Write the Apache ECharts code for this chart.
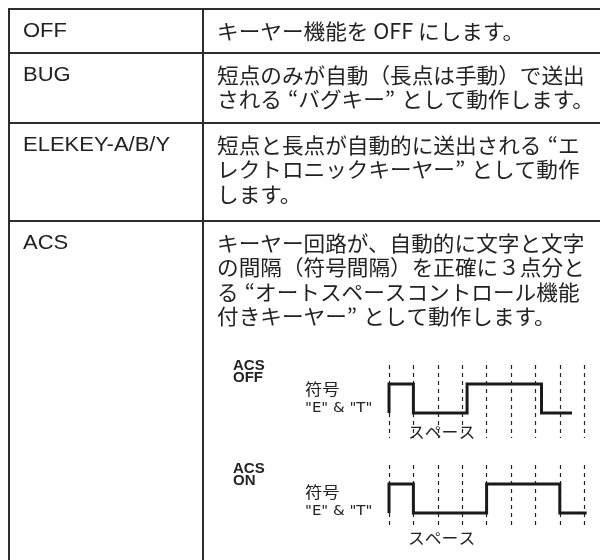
<!DOCTYPE html>
<html>
<head>
<meta charset="utf-8">
<script src="https://cdn.jsdelivr.net/npm/echarts@6/dist/echarts.min.js"></script>
<style>html,body{margin:0;padding:0;background:#fff;}#c{width:600px;height:560px;}</style>
</head>
<body>
<div id="c"></div>
<script>
// ---- data ----
const rowKeys = ['OFF', 'BUG', 'ELEKEY-A/B/Y', 'ACS'];
const rowDescOff = ['キーヤー機能を OFF にします。'];
const rowDescBug = ['短点のみが自動（長点は手動）で送出', 'される“バグキー”として動作します。'];
const rowDescElekey = ['短点と長点が自動的に送出される“エ', 'レクトロニックキーヤー”として動作', 'します。'];
const rowDescAcs = ['キーヤー回路が、自動的に文字と文字', 'の間隔（符号間隔）を正確に３点分と', 'る“オートスペースコントロール機能', '付きキーヤー”として動作します。'];
const diagramTitles = ['ACS\nOFF', 'ACS\nON'];
const signalLabel = ['符号', '"E" & "T"'];
const spaceLabel = 'スペース';
const acsOffTime = [0, 0, 1, 1, 3.2, 3.2, 6.25, 6.25, 7.5];
const acsOffLevel = [0, 1, 1, 0, 0, 1, 1, 0, 0];
const acsOnTime = [0, 0, 1, 1, 4, 4, 7, 7, 8.1];
const acsOnLevel = [0, 1, 1, 0, 0, 1, 1, 0, 0];
const timeTickMin = 0, timeTickMax = 8, timeTickStep = 1;

// ---- layout ----
const INK = '#222';
const LINE = '#2e2e2e';
const rowTops = [9, 53, 123, 221];
const colX = 203, leftX = 9;
const lineH = 24.5;
const firstPad = 22;
const cjk = '"Noto Sans CJK JP", "Noto Sans CJK SC", sans-serif';
const latin = '"Liberation Sans", Arial, sans-serif';
const FS = 21;

const graphics = [];
function hline(y) {
  graphics.push({type: 'line', shape: {x1: leftX - 1, y1: y, x2: 600, y2: y}, style: {stroke: LINE, lineWidth: 2}, z: 10});
}
function vline(x) {
  graphics.push({type: 'line', shape: {x1: x, y1: rowTops[0] - 1, x2: x, y2: 560}, style: {stroke: LINE, lineWidth: 2}, z: 10});
}
function txt(s, x, y, size, family, weight, sx) {
  graphics.push({
    type: 'text', x: x, y: y, scaleX: sx || 1, originX: 0, originY: 0, z: 20,
    style: {text: s, fontSize: size, fontFamily: family, fontWeight: weight || 'normal', fill: INK, align: 'left', verticalAlign: 'middle'}
  });
}
// Japanese line; quote marks get extra outer space like the original typesetting
function jtxt(s, x, y, sx) {
  const base = {fontSize: FS, fontFamily: cjk, fill: INK, lineHeight: lineH};
  if (s.indexOf('“') < 0 && s.indexOf('”') < 0) { txt(s, x, y, FS, cjk, 'normal', sx); return; }
  const marked = s.replace(/“/g, '{qo|“}').replace(/”/g, '{qc|”}');
  graphics.push({
    type: 'text', x: x, y: y, scaleX: sx || 1, originX: 0, originY: 0, z: 20,
    style: Object.assign({}, base, {
      text: marked, align: 'left', verticalAlign: 'middle',
      rich: {
        qo: Object.assign({}, base, {padding: [0, 0, 0, 6]}),
        qc: Object.assign({}, base, {padding: [0, 6, 0, 0]})
      }
    })
  });
}
rowTops.forEach(hline);
vline(leftX); vline(colX);

const descs = [rowDescOff, rowDescBug, rowDescElekey, rowDescAcs];
rowKeys.forEach((k, i) => {
  const cy = rowTops[i] + firstPad;
  txt(k, 23, cy, 20, latin, 'normal', 1.1);
  descs[i].forEach((line, j) => jtxt(line, 217, cy + j * lineH, 1.03));
});

// diagram labels
const blockTops = [366, 469];
blockTops.forEach((t, b) => {
  const parts = diagramTitles[b].split('\n');
  parts.forEach((p, j) => txt(p, 233, t + j * 12, 15, latin, 'bold', 1));
  txt(signalLabel[0], 305, t + 23, 16, cjk, 'normal', 1.08);
  txt(signalLabel[1], 305, t + 42, 14, '"DejaVu Sans"', 'normal', 1.07);
});
txt(spaceLabel, 408, 432, 16, cjk, 'normal', 1.05);
txt(spaceLabel, 408, 538, 16, cjk, 'normal', 1.05);

const chart = echarts.init(document.getElementById('c'), null, {renderer: 'canvas'});
function xAx(gi) {
  return {
    type: 'value', gridIndex: gi, min: timeTickMin, max: timeTickMax, interval: timeTickStep,
    axisLine: {show: false}, axisTick: {show: false}, axisLabel: {show: false},
    splitLine: {show: true, lineStyle: {color: '#222', width: 1.2, type: [4, 4]}}
  };
}
function yAx(gi, mn, mx) {
  return {type: 'value', gridIndex: gi, min: mn, max: mx, show: false, splitLine: {show: false}};
}
const waveStyle = {color: '#1a1a1a', width: 3, join: 'miter', cap: 'butt'};
chart.setOption({
  animation: false,
  backgroundColor: '#fff',
  grid: [
    {left: 389, width: 195.2, top: 365, height: 73, containLabel: false, outerBoundsMode: 'none'},
    {left: 389, width: 195.2, top: 465, height: 63, containLabel: false, outerBoundsMode: 'none'}
  ],
  xAxis: [xAx(0), xAx(1)],
  yAxis: [yAx(0, -0.862, 1.655), yAx(1, -0.517, 1.655)],
  series: [
    {type: 'line', xAxisIndex: 0, yAxisIndex: 0, data: acsOffTime.map((t, i) => [t, acsOffLevel[i]]), symbol: 'none', clip: false, lineStyle: waveStyle, z: 5},
    {type: 'line', xAxisIndex: 1, yAxisIndex: 1, data: acsOnTime.map((t, i) => [t, acsOnLevel[i]]), symbol: 'none', clip: false, lineStyle: waveStyle, z: 5}
  ],
  graphic: graphics
});
</script>
</body>
</html>
